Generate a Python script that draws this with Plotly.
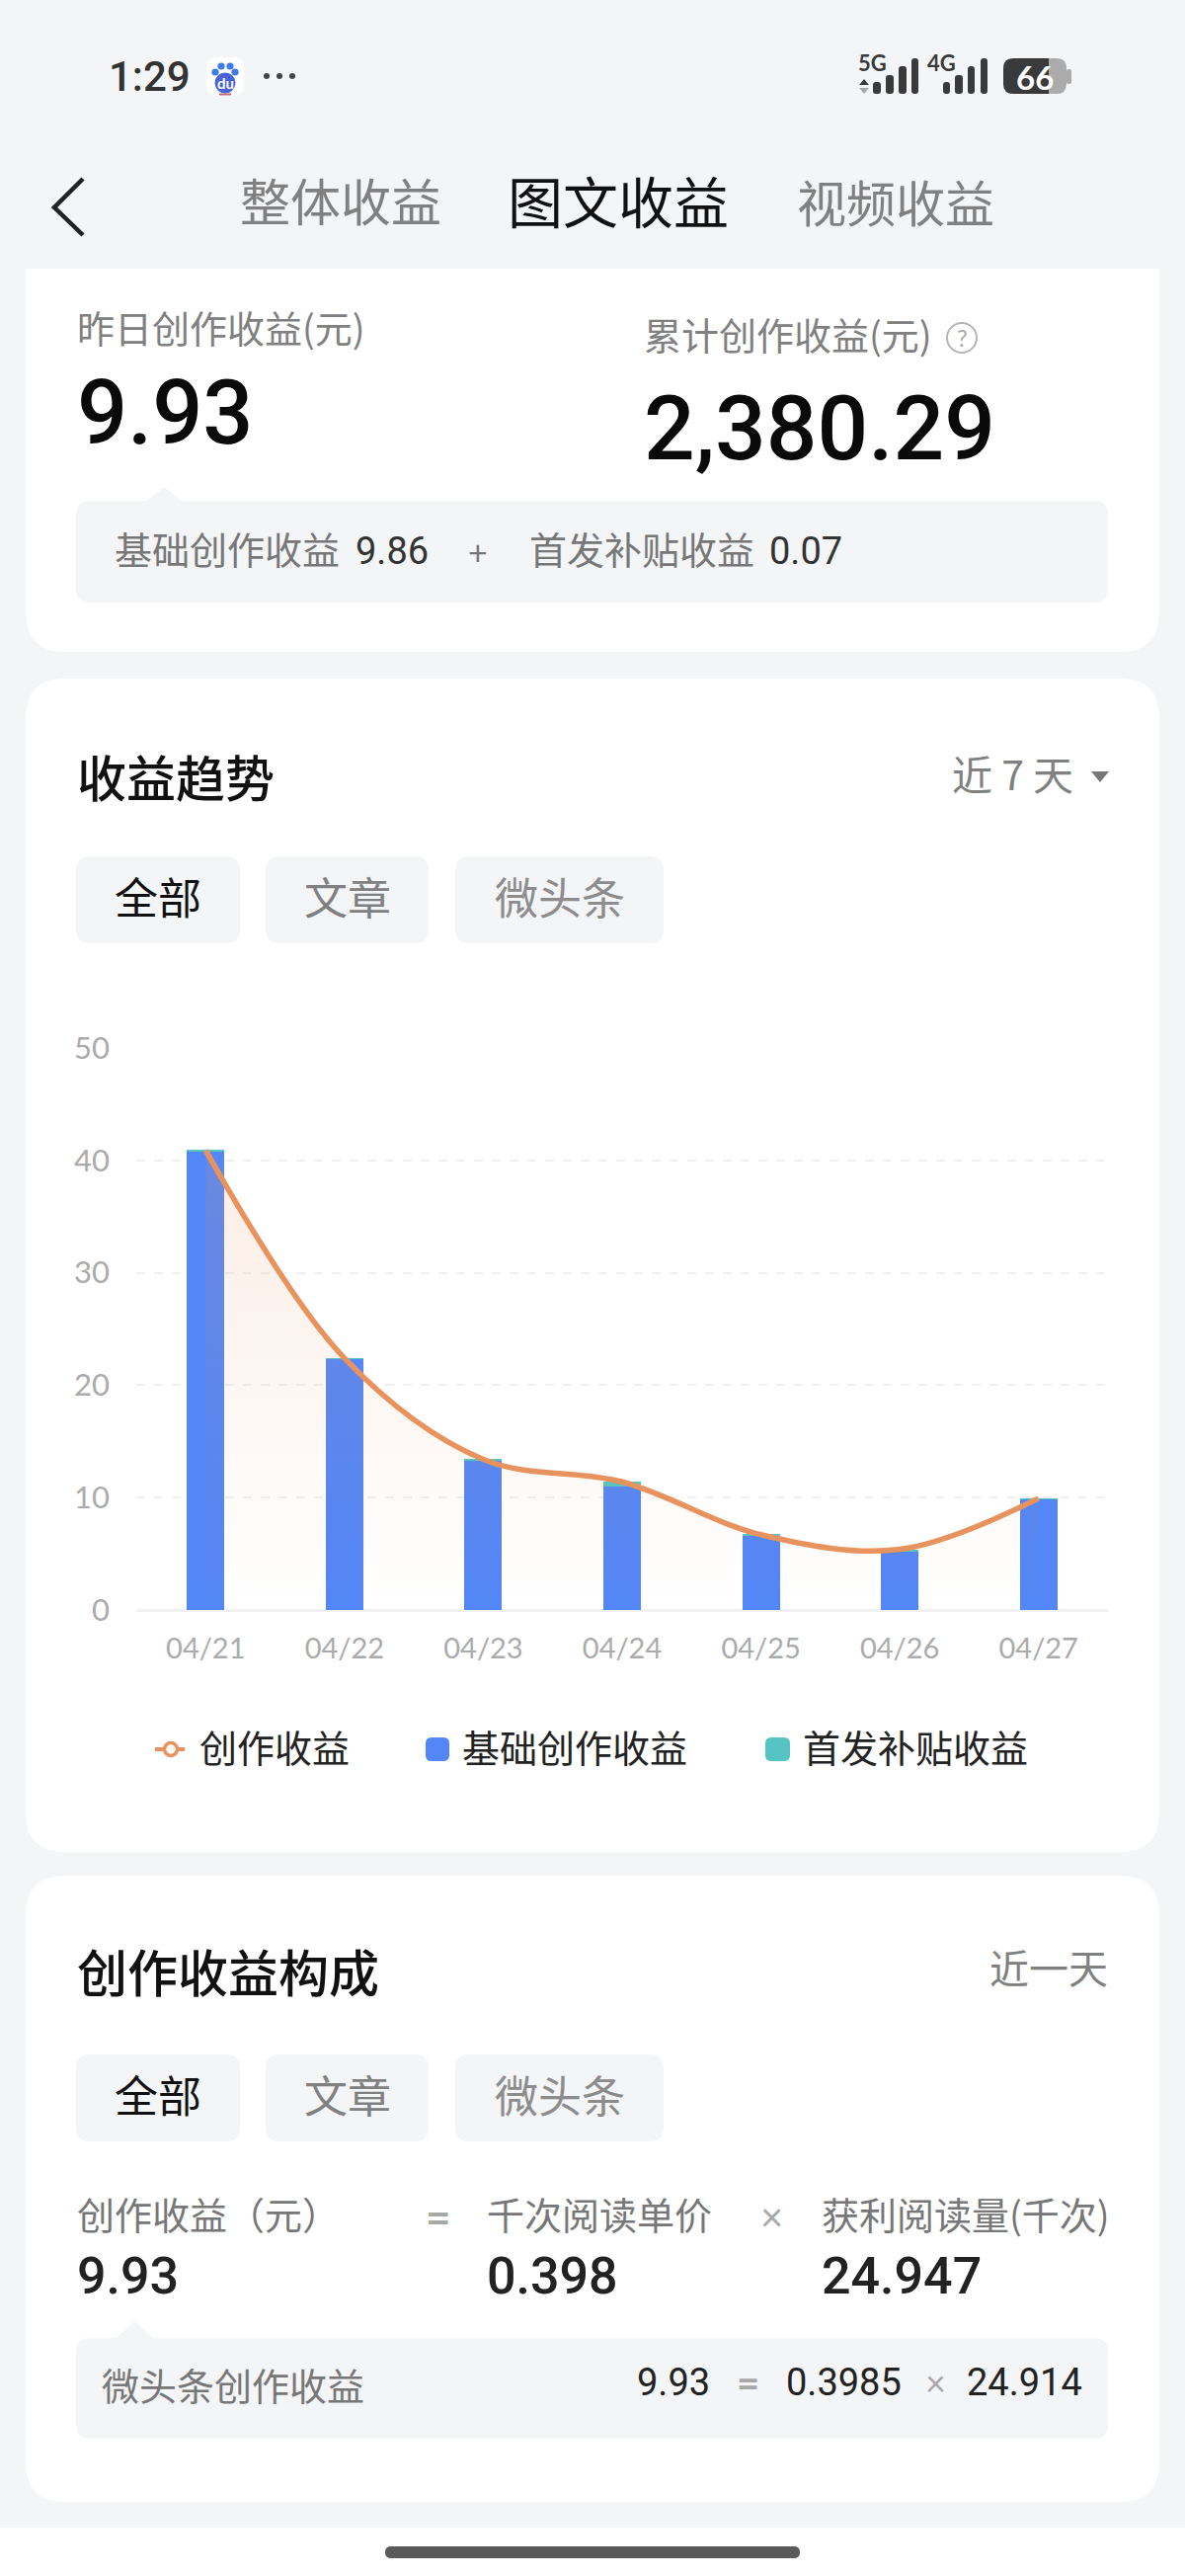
import plotly.graph_objects as go

W, H = 1200, 2608

# chart values
dates = ["04/21", "04/22", "04/23", "04/24", "04/25", "04/26", "04/27"]
base_income = [40.85, 22.35, 13.35, 11.0, 6.65, 5.25, 9.86]
first_pub_income = [0.05, 0.05, 0.05, 0.4, 0.05, 0.05, 0.07]
total_income = [40.9, 22.4, 13.4, 11.4, 6.7, 5.4, 9.93]
y_ticks = [0, 10, 20, 30, 40, 50]
series_names = ["创作收益", "基础创作收益", "首发补贴收益"]

BG = "#F4F5F7"
BLUE = "#5386F6"
TEAL = "#57C4C4"
ORANGE = "#E8935E"
CN = "'Noto Sans CJK SC', sans-serif"
NUM = "Lato, 'Noto Sans CJK SC', sans-serif"
HEAVY = "Roboto, 'Noto Sans CJK SC', sans-serif"


def px(x):
    return x / W


def py(y):
    return 1 - y / H


shapes = []
notes = []


def path_shape(d, fill=None, line=None, lw=0):
    shapes.append(dict(type="path", xref="paper", yref="paper", path=d, layer="below",
                       fillcolor=fill or "rgba(0,0,0,0)",
                       line=dict(color=line or "rgba(0,0,0,0)", width=lw)))


def poly(pts, fill=None, line=None, lw=0, close=True):
    d = "M" + " L".join(f"{px(x):.5f},{py(y):.5f}" for x, y in pts) + (" Z" if close else "")
    path_shape(d, fill, line, lw)


def round_rect(x0, y0, x1, y1, r, fill, top=True):
    p = lambda x, y: f"{px(x):.5f},{py(y):.5f}"
    if top:
        d = f"M{p(x0 + r, y0)} L{p(x1 - r, y0)} Q{p(x1, y0)} {p(x1, y0 + r)} "
    else:
        d = f"M{p(x0, y0)} L{p(x1, y0)} "
    d += f"L{p(x1, y1 - r)} Q{p(x1, y1)} {p(x1 - r, y1)} L{p(x0 + r, y1)} Q{p(x0, y1)} {p(x0, y1 - r)} "
    if top:
        d += f"L{p(x0, y0 + r)} Q{p(x0, y0)} {p(x0 + r, y0)} Z"
    else:
        d += "Z"
    path_shape(d, fill)


def circle(cx, cy, r, fill, line=None, lw=0):
    shapes.append(dict(type="circle", xref="paper", yref="paper", layer="below",
                       x0=px(cx - r), x1=px(cx + r), y0=py(cy + r), y1=py(cy - r),
                       fillcolor=fill, line=dict(color=line or "rgba(0,0,0,0)", width=lw)))


def text(x, y, s, size, color="#222222", anchor="left", family=CN, weight=400):
    # CJK glyphs sit low in their line box, lift them a little
    if family == CN:
        y -= size * 0.09
    notes.append(dict(xref="paper", yref="paper", x=px(x), y=py(y), text=s, showarrow=False,
                      xanchor=anchor, yanchor="middle", borderpad=0, borderwidth=0,
                      font=dict(size=size, color=color, family=family, weight=weight)))


# status bar
text(110, 77, "1:29", 42, "#333333", family=HEAVY, weight=500)
round_rect(209, 58, 247, 97, 10, "#FFFFFF")
for cx, cy in [(218, 73), (224, 67), (233, 67), (238, 73)]:
    circle(cx, cy, 3.6, "#3F7BE8")
circle(228, 84, 10.5, "#4A62D8")
text(228, 84, "du", 15, "#FFFFFF", "center", NUM, 700)
poly([(222, 95.5), (234, 95.5)], line="#B96A72", lw=2, close=False)
for cx in [270, 283, 296]:
    circle(cx, 77, 3, "#444444")

text(869, 63, "5G", 22, "#3A3A3A", family=NUM, weight=700)
for x0, x1, top in [(884, 892, 83), (897, 905, 76), (910, 918, 67), (923, 930, 59)]:
    round_rect(x0, top, x1, 95, 3, "#3A3A3A")
poly([(875, 80), (880, 86), (870, 86)], "#3A3A3A")
poly([(870, 89), (880, 89), (875, 95)], "#A8A8A8")
text(939, 63, "4G", 22, "#3A3A3A", family=NUM, weight=700)
for x0, x1, top in [(955, 962, 83), (967, 975, 76), (980, 987, 67), (993, 1000, 59)]:
    round_rect(x0, top, x1, 95, 3, "#3A3A3A")
round_rect(1030, 59, 1080, 95, 10, "#ABABAB")
round_rect(1080, 70, 1085, 85, 2, "#ABABAB")
round_rect(1016, 59, 1062, 95, 10, "#3A3A3A")
poly([(1040, 59), (1062, 59), (1062, 95), (1040, 95)], "#3A3A3A")
text(1048, 78, "66", 33, "#FFFFFF", "center", NUM, 700)

# nav
poly([(84, 181), (55, 210), (84, 238)], line="#222222", lw=4.5, close=False)
text(243, 207, "整体收益", 51, "#808080")
text(514, 207, "图文收益", 56, "#111111")
text(807, 207, "视频收益", 50, "#808080")

# cards
round_rect(26, 272, 1174, 660, 40, "#FFFFFF", top=False)
round_rect(26, 687, 1174, 1875, 40, "#FFFFFF")
round_rect(26, 1899, 1174, 2533, 40, "#FFFFFF")
poly([(0, 2559), (1200, 2559), (1200, 2608), (0, 2608)], "#FFFFFF")
round_rect(390, 2578, 810, 2590, 6, "#5A5A5A")

# card 1
text(78, 334, "昨日创作收益(元)", 38, "#808080")
text(652, 341, "累计创作收益(元)", 38, "#808080")
circle(974, 342, 15, "#FFFFFF", "#B5B5B5", 2)
text(974, 342, "?", 24, "#A8A8A8", "center", NUM)
text(78, 418, "9.93", 90, "#0A0A0A", family=HEAVY, weight=500)
text(652, 434, "2,380.29", 91, "#0A0A0A", family=HEAVY, weight=500)
round_rect(77, 507, 1122, 610, 14, BG)
poly([(149, 507), (166, 493), (184, 507)], BG)
text(116, 558, "基础创作收益", 38, "#777777")
text(360, 558, "9.86", 38, "#333333", family=HEAVY)
text(484, 558, "+", 34, "#777777", "center", NUM)
text(536, 558, "首发补贴收益", 38, "#777777")
text(779, 558, "0.07", 38, "#333333", family=HEAVY)

# card 2
text(78, 789, "收益趋势", 50, "#111111", weight=500)
text(964, 786, "近 7 天", 41, "#808080")
poly([(1105, 781), (1123, 781), (1114, 792)], "#777777")


def tabs(y0, y1):
    for x0, x1, s, c in [(77, 243, "全部", "#111111"), (269, 434, "文章", "#808080"), (461, 672, "微头条", "#8C8C8C")]:
        round_rect(x0, y0, x1, y1, 14, BG)
        text((x0 + x1) / 2, (y0 + y1) / 2, s, 44, c, "center")


tabs(867, 955)

# hand drawn legend, keeps the dot on the line key without dots on the curve
poly([(157, 1771), (187, 1771)], line=ORANGE, lw=4, close=False)
circle(173, 1771, 6.5, "#FFFFFF", ORANGE, 3.5)
text(202, 1771, series_names[0], 38, "#222222")
round_rect(431, 1759, 455, 1783, 6, BLUE)
text(468, 1771, series_names[1], 38, "#222222")
round_rect(775, 1759, 800, 1783, 6, TEAL)
text(813, 1771, series_names[2], 38, "#222222")

# card 3
text(78, 2000, "创作收益构成", 51, "#111111", weight=500)
text(1122, 1995, "近一天", 40, "#808080", "right")
tabs(2080, 2168)
text(78, 2244, "创作收益（元）", 38, "#777777")
text(444, 2244, "=", 44, "#A8A8A8", "center", NUM, 700)
text(493, 2244, "千次阅读单价", 38, "#777777")
text(781, 2244, "×", 40, "#A8A8A8", "center", NUM)
text(832, 2244, "获利阅读量(千次)", 38, "#777777")
text(78, 2304, "9.93", 52, "#222222", family=HEAVY, weight=500)
text(493, 2304, "0.398", 52, "#222222", family=HEAVY, weight=500)
text(832, 2304, "24.947", 52, "#222222", family=HEAVY, weight=500)
round_rect(77, 2367, 1122, 2469, 14, BG)
poly([(118, 2367), (136, 2350), (155, 2367)], BG)
text(103, 2417, "微头条创作收益", 38, "#777777")
text(645, 2412, "9.93", 38, "#222222", family=HEAVY)
text(757, 2412, "=", 40, "#A8A8A8", "center", NUM, 700)
text(796, 2412, "0.3985", 38, "#222222", family=HEAVY)
text(947, 2412, "×", 36, "#A8A8A8", "center", NUM)
text(979, 2412, "24.914", 38, "#222222", family=HEAVY)

fig = go.Figure()
fig.add_trace(go.Bar(x=dates, y=base_income, name=series_names[1], marker=dict(color=BLUE, line_width=0), width=0.27))
fig.add_trace(go.Bar(x=dates, y=first_pub_income, name=series_names[2], marker=dict(color=TEAL, line_width=0), width=0.27))
fig.add_trace(go.Scatter(
    x=dates, y=total_income, name=series_names[0], mode="lines",
    line=dict(color=ORANGE, width=5.5, shape="spline", smoothing=1.0),
    fill="tozeroy",
    fillgradient=dict(type="vertical", colorscale=[[0, "rgba(232,147,94,0)"], [1, "rgba(232,147,94,0.16)"]]),
))

fig.update_layout(
    width=W, height=H, margin=dict(l=0, r=0, t=0, b=0, autoexpand=False),
    paper_bgcolor=BG, plot_bgcolor="rgba(0,0,0,0)",
    barmode="stack", showlegend=False, hovermode=False,
    shapes=shapes, annotations=notes,
    font=dict(family=NUM),
    xaxis=dict(domain=[px(138), px(1122)], range=[-0.5, 6.5], type="category", showgrid=False, ticks="",
               showline=False, zeroline=False, ticklabelstandoff=19,
               tickfont=dict(size=29, color="#ABABAB", family=NUM), fixedrange=True),
    yaxis=dict(domain=[py(1630), py(1061)], range=[0, 50], tickvals=y_ticks, ticks="",
               gridcolor="#EFF0F2", gridwidth=2, griddash="dash",
               zeroline=True, zerolinecolor="#F0F1F3", zerolinewidth=3, showline=False,
               ticklabelstandoff=26, tickfont=dict(size=31, color="#ABABAB", family=NUM), fixedrange=True),
)

fig.write_html("out.html", config=dict(displayModeBar=False), post_script="document.body.style.margin='0';")
